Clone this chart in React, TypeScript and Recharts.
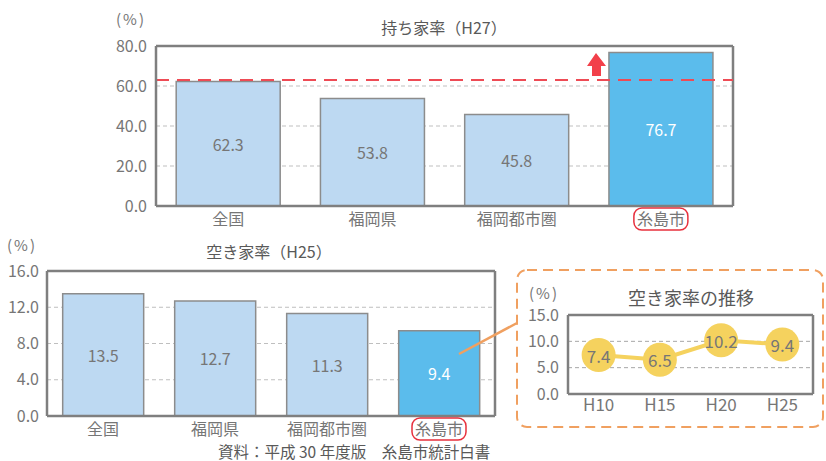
import React from "react";
import {
  BarChart,
  Bar,
  LineChart,
  Line,
  XAxis,
  YAxis,
  CartesianGrid,
  Cell,
  LabelList,
  ReferenceLine,
} from "recharts";

const FONT = '"Noto Sans CJK JP", "Noto Sans", sans-serif';

// 持ち家率（H27）
const ownCategories = ["全国", "福岡県", "福岡都市圏", "糸島市"];
const ownRates = [62.3, 53.8, 45.8, 76.7];
const ownTicks = [0, 20, 40, 60, 80];
const ownNational = 63;

// 空き家率（H25）
const vacantCategories = ["全国", "福岡県", "福岡都市圏", "糸島市"];
const vacantRates = [13.5, 12.7, 11.3, 9.4];
const vacantTicks = [0, 4, 8, 12, 16];

// 空き家率の推移
const trendYears = ["H10", "H15", "H20", "H25"];
const trendRates = [7.4, 6.5, 10.2, 9.4];
const trendTicks = [0, 5, 10, 15];

const highlight = "糸島市";

const ownData = ownCategories.map((name, i) => ({ name, value: ownRates[i] }));
const vacantData = vacantCategories.map((name, i) => ({ name, value: vacantRates[i] }));
const trendData = trendYears.map((name, i) => ({ name, value: trendRates[i] }));

const GRAY = "#767676";
const FRAME = "#7f7f7f";
const LIGHT = "#BDD9F2";
const BLUE = "#5BBCEC";
const YELLOW = "#F5D25E";
const ORANGE = "#F0A060";

const CategoryTick = (props: any) => {
  const { x, y, payload } = props;
  const hl = payload.value === highlight;
  return (
    <g transform={`translate(${x},${y})`}>
      {hl && (
        <rect x={-27} y={2} width={54} height={22} rx={8} fill="none" stroke="#E8303D" strokeWidth={1.5} />
      )}
      <text textAnchor="middle" y={19} fontSize={16} fill={GRAY} fontFamily={FONT}>
        {payload.value}
      </text>
    </g>
  );
};

const barLabel = (data: { name: string }[]) => (props: any) => {
  const { x, y, width, height, value, index } = props;
  const hl = data[index]?.name === highlight;
  return (
    <text
      x={x + width / 2}
      y={y + height / 2}
      textAnchor="middle"
      dominantBaseline="central"
      fontSize={16}
      fill={hl ? "#ffffff" : GRAY}
      fontFamily={FONT}
    >
      {Number(value).toFixed(1)}
    </text>
  );
};

const frameLine = { stroke: FRAME, strokeWidth: 2.5 };

function OwnChart() {
  return (
    <BarChart
      width={745}
      height={235}
      data={ownData}
      margin={{ top: 46, right: 12, left: 0, bottom: 4 }}
      barCategoryGap="14%"
    >
      <CartesianGrid vertical={false} stroke="#bfbfbf" strokeDasharray="4 3" />
      <XAxis
        dataKey="name"
        tickLine={false}
        tickSize={0}
        tickMargin={0}
        height={25}
        axisLine={frameLine}
        tick={<CategoryTick />}
        interval={0}
      />
      <YAxis
        width={156}
        domain={[0, 80]}
        ticks={ownTicks}
        tickFormatter={(v: number) => v.toFixed(1)}
        tickLine={false}
        tickSize={0}
        tickMargin={9}
        axisLine={frameLine}
        tick={{ fill: GRAY, fontSize: 16, fontFamily: FONT }}
      />
      <Bar dataKey="value" stroke="#8c8c8c" strokeWidth={1.5} isAnimationActive={false}>
        {ownData.map((d) => (
          <Cell key={d.name} fill={d.name === highlight ? BLUE : LIGHT} />
        ))}
        <LabelList dataKey="value" content={barLabel(ownData)} />
      </Bar>
      <ReferenceLine y={ownTicks[ownTicks.length - 1]} {...frameLine} />
      <ReferenceLine x={ownCategories[ownCategories.length - 1]} position="end" {...frameLine} />
      <ReferenceLine y={ownNational} stroke="#EE4B55" strokeWidth={2} strokeDasharray="13 8" />
    </BarChart>
  );
}

function VacantChart() {
  return (
    <BarChart
      width={500}
      height={211}
      data={vacantData}
      margin={{ top: 41, right: 5, left: 0, bottom: 0 }}
      barCategoryGap="14%"
    >
      <CartesianGrid vertical={false} stroke="#bfbfbf" strokeDasharray="4 3" />
      <XAxis
        dataKey="name"
        tickLine={false}
        tickSize={0}
        tickMargin={0}
        height={25}
        axisLine={frameLine}
        tick={<CategoryTick />}
        interval={0}
      />
      <YAxis
        width={47}
        domain={[0, 16]}
        ticks={vacantTicks}
        tickFormatter={(v: number) => v.toFixed(1)}
        tickLine={false}
        tickSize={0}
        tickMargin={8}
        axisLine={frameLine}
        tick={{ fill: GRAY, fontSize: 16, fontFamily: FONT }}
      />
      <Bar dataKey="value" stroke="#8c8c8c" strokeWidth={1.5} isAnimationActive={false}>
        {vacantData.map((d) => (
          <Cell key={d.name} fill={d.name === highlight ? BLUE : LIGHT} />
        ))}
        <LabelList dataKey="value" content={barLabel(vacantData)} />
      </Bar>
      <ReferenceLine y={vacantTicks[vacantTicks.length - 1]} {...frameLine} />
      <ReferenceLine x={vacantCategories[vacantCategories.length - 1]} position="end" {...frameLine} />
    </BarChart>
  );
}

const pointLabel = (props: any) => {
  const { x, y, value } = props;
  return (
    <text x={x} y={y} textAnchor="middle" dominantBaseline="central" fontSize={17} fill={GRAY} fontFamily={FONT}>
      {Number(value).toFixed(1)}
    </text>
  );
};

function TrendChart() {
  return (
    <LineChart
      width={320}
      height={154}
      data={trendData}
      margin={{ top: 45, right: 7, left: 0, bottom: 0 }}
    >
      <CartesianGrid vertical={false} stroke="#a6a6a6" strokeDasharray="4 3" />
      <XAxis
        dataKey="name"
        scale="band"
        tickLine={false}
        tickSize={0}
        tickMargin={5}
        height={30}
        axisLine={frameLine}
        tick={{ fill: GRAY, fontSize: 17, fontFamily: FONT }}
        interval={0}
      />
      <YAxis
        width={68}
        domain={[0, 15]}
        ticks={trendTicks}
        tickFormatter={(v: number) => v.toFixed(1)}
        tickLine={false}
        tickSize={0}
        tickMargin={9}
        axisLine={frameLine}
        tick={{ fill: GRAY, fontSize: 16, fontFamily: FONT }}
      />
      <ReferenceLine y={trendTicks[trendTicks.length - 1]} {...frameLine} />
      <ReferenceLine x={trendYears[trendYears.length - 1]} position="end" {...frameLine} />
      <Line
        dataKey="value"
        stroke={YELLOW}
        strokeWidth={4}
        dot={{ r: 17, fill: YELLOW, stroke: "none" }}
        isAnimationActive={false}
      >
        <LabelList dataKey="value" content={pointLabel} />
      </Line>
    </LineChart>
  );
}

const textStyle: React.CSSProperties = {
  position: "absolute",
  fontFamily: FONT,
  color: "#595959",
  whiteSpace: "nowrap",
  lineHeight: 1,
};

export default function App() {
  return (
    <div style={{ position: "absolute", left: 0, top: 0, width: 826, height: 461, background: "#fff", fontFamily: FONT }}>
      <div style={{ position: "absolute", left: 0, top: 0 }}>
        <OwnChart />
      </div>
      <div style={{ position: "absolute", left: 0, top: 230 }}>
        <VacantChart />
      </div>
      <div style={{ position: "absolute", left: 500, top: 270 }}>
        <TrendChart />
      </div>

      <svg width={826} height={461} style={{ position: "absolute", left: 0, top: 0, pointerEvents: "none" }}>
        <rect x={517} y={270} width={306} height={157} rx={10} fill="none" stroke={ORANGE} strokeWidth={2} strokeDasharray="10 6" />
        <line x1={459} y1={354} x2={517} y2={323} stroke={ORANGE} strokeWidth={2.5} />
        <polygon points="596,53 587,66 592,66 592,76 601,76 601,66 606,66" fill="#F2404A" />
      </svg>

      <div style={{ ...textStyle, left: 116, top: 11, fontSize: 15, color: GRAY, letterSpacing: 2 }}>(%)</div>
      <div style={{ ...textStyle, left: 444, top: 19, fontSize: 16, transform: "translateX(-50%)" }}>
        持ち家率（H27）
      </div>

      <div style={{ ...textStyle, left: 7, top: 237, fontSize: 15, color: GRAY, letterSpacing: 2 }}>(%)</div>
      <div style={{ ...textStyle, left: 269, top: 243, fontSize: 16, transform: "translateX(-50%)" }}>
        空き家率（H25）
      </div>

      <div style={{ ...textStyle, left: 529, top: 285, fontSize: 15, color: GRAY, letterSpacing: 2 }}>(%)</div>
      <div style={{ ...textStyle, left: 691, top: 288, fontSize: 18, transform: "translateX(-50%)" }}>
        空き家率の推移
      </div>

      <div style={{ ...textStyle, left: 218, top: 444, fontSize: 15.5 }}>
        資料：平成 30 年度版　糸島市統計白書
      </div>
    </div>
  );
}
